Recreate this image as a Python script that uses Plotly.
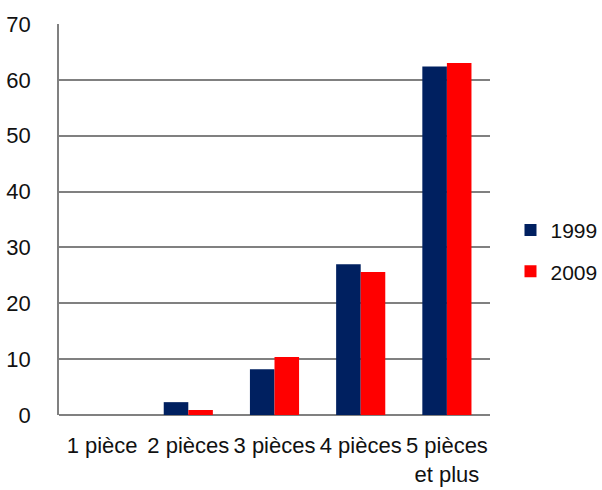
import plotly.graph_objects as go

# Répartition des logements selon le nombre de pièces (%)
categories = ["1 pièce", "2 pièces", "3 pièces", "4 pièces", "5 pièces<br>et plus"]
values_1999 = [0.0, 2.3, 8.2, 27.0, 62.4]
values_2009 = [0.0, 0.9, 10.4, 25.6, 63.0]
y_ticks = [0, 10, 20, 30, 40, 50, 60, 70]

FONT = "Liberation Sans, Arial, sans-serif"
FS = 22

fig = go.Figure()
fig.add_trace(go.Bar(name="1999", x=categories, y=values_1999,
                     marker=dict(color="#002060", line=dict(width=0)),
                     legendgroup="a"))
fig.add_trace(go.Bar(name="2009", x=categories, y=values_2009,
                     marker=dict(color="#FF0000", line=dict(width=0)),
                     legendgroup="b"))

fig.update_layout(
    width=602, height=490,
    margin=dict(l=59, r=112, t=24, b=75, autoexpand=False),
    paper_bgcolor="white", plot_bgcolor="white",
    barmode="group", bargap=0.43, bargroupgap=0,
    font=dict(family=FONT, size=FS, color="#111111"),
    showlegend=True,
    legend=dict(xref="container", yref="container",
                x=0.848, y=0.488, xanchor="left", yanchor="middle",
                tracegroupgap=11, font=dict(size=21),
                bgcolor="rgba(0,0,0,0)"),
)
fig.update_xaxes(showgrid=False, showline=False, ticks="", tickangle=0,
                 ticklabelstandoff=15, automargin=False,
                 tickfont=dict(size=FS))
fig.update_yaxes(range=[0, 70], tickvals=y_ticks, showgrid=True,
                 gridcolor="#808080", gridwidth=1.5, zeroline=True,
                 zerolinecolor="#808080", zerolinewidth=1.5,
                 showline=True, linecolor="#808080", linewidth=1.5,
                 ticks="", ticklabelstandoff=22, automargin=False,
                 tickfont=dict(size=FS))

fig.write_html("out.html")
